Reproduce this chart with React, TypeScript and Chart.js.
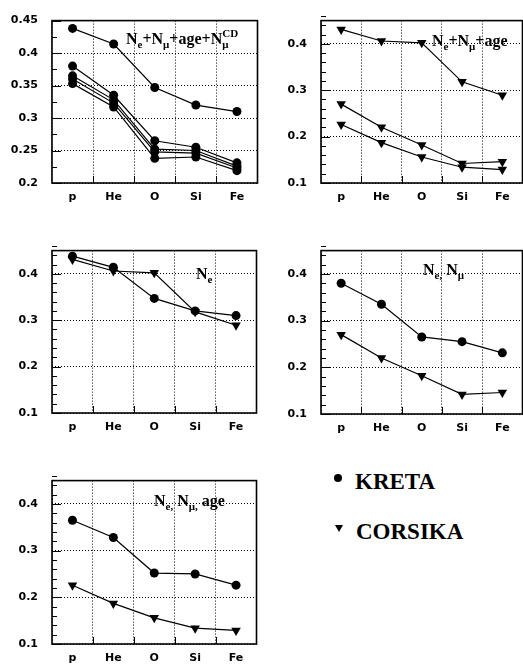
import React, { useEffect, useRef } from 'react';
import { Chart, registerables } from 'chart.js';

Chart.register(...registerables);

// ---------- data ----------
const elements = ['p', 'He', 'O', 'Si', 'Fe'];

// KRETA (circles)
const kretaNe = [0.438, 0.414, 0.347, 0.32, 0.31];
const kretaSetA = [0.38, 0.335, 0.265, 0.255, 0.231];
const kretaSetB = [0.365, 0.328, 0.252, 0.25, 0.226];
const kretaSetC = [0.36, 0.323, 0.248, 0.246, 0.223];
const kretaSetD = [0.353, 0.317, 0.238, 0.24, 0.219];

// CORSIKA (triangles)
const corsikaNe = [0.431, 0.406, 0.402, 0.318, 0.289];
const corsikaNeNmu = [0.27, 0.22, 0.182, 0.142, 0.146];
const corsikaNeNmuAge = [0.226, 0.187, 0.156, 0.134, 0.129];

const yTicksTop = [0.2, 0.25, 0.3, 0.35, 0.4, 0.45];
const yTicksOther = [0.1, 0.2, 0.3, 0.4];

const legendLabels = ['KRETA', 'CORSIKA'];

// ---------- types ----------
type Part = { t: string; sub?: boolean; sup?: boolean; stack?: boolean };
type Series = { data: number[]; marker: 'circle' | 'triangle' };
type Panel = {
  left: number;
  top: number;
  width: number;
  height: number;
  padTop: number;
  padRight: number;
  yW: number;
  xH: number;
  yMin: number;
  yMax: number;
  yTicks: number[];
  yMinor: number;
  series: Series[];
  label: Part[];
  labelDX: number;
  labelDY: number;
};

const N = (sub: string, extra: Partial<Part> = {}): Part[] => [
  { t: 'N' },
  { t: sub, sub: true, ...extra },
];

const panels: Panel[] = [
  {
    left: 0, top: 0, width: 262, height: 210, padTop: 17, padRight: 4, yW: 52, xH: 27,
    yMin: 0.2, yMax: 0.45, yTicks: yTicksTop, yMinor: 0.025,
    series: [
      { data: kretaNe, marker: 'circle' },
      { data: kretaSetA, marker: 'circle' },
      { data: kretaSetB, marker: 'circle' },
      { data: kretaSetC, marker: 'circle' },
      { data: kretaSetD, marker: 'circle' },
    ],
    label: [
      ...N('e'), { t: '+' }, ...N('\u03bc'), { t: '+age+' },
      { t: 'N' }, { t: '\u03bc', sub: true, stack: true }, { t: 'CD', sup: true },
    ],
    labelDX: 74, labelDY: 23,
  },
  {
    left: 268, top: 0, width: 260, height: 210, padTop: 18, padRight: 3, yW: 53, xH: 27,
    yMin: 0.1, yMax: 0.45, yTicks: yTicksOther, yMinor: 0.02,
    series: [
      { data: corsikaNe, marker: 'triangle' },
      { data: corsikaNeNmu, marker: 'triangle' },
      { data: corsikaNeNmuAge, marker: 'triangle' },
    ],
    label: [...N('e'), { t: '+' }, ...N('\u03bc'), { t: '+age' }],
    labelDX: 111, labelDY: 25,
  },
  {
    left: 0, top: 230, width: 262, height: 210, padTop: 17, padRight: 4, yW: 52, xH: 27,
    yMin: 0.1, yMax: 0.45, yTicks: yTicksOther, yMinor: 0.02,
    series: [
      { data: kretaNe, marker: 'circle' },
      { data: corsikaNe, marker: 'triangle' },
    ],
    label: [...N('e')],
    labelDX: 144, labelDY: 28,
  },
  {
    left: 268, top: 230, width: 260, height: 210, padTop: 19, padRight: 3, yW: 53, xH: 26,
    yMin: 0.1, yMax: 0.45, yTicks: yTicksOther, yMinor: 0.02,
    series: [
      { data: kretaSetA, marker: 'circle' },
      { data: corsikaNeNmu, marker: 'triangle' },
    ],
    label: [...N('e,'), { t: ' ' }, ...N('\u03bc')],
    labelDX: 102, labelDY: 24,
  },
  {
    left: 0, top: 460, width: 262, height: 210, padTop: 17, padRight: 4, yW: 52, xH: 26,
    yMin: 0.1, yMax: 0.45, yTicks: yTicksOther, yMinor: 0.02,
    series: [
      { data: kretaSetB, marker: 'circle' },
      { data: corsikaNeNmuAge, marker: 'triangle' },
    ],
    label: [...N('e,'), { t: ' ' }, ...N('\u03bc,'), { t: ' age' }],
    labelDX: 102, labelDY: 25,
  },
];

const MAIN_FONT = 'bold 16px "Liberation Serif", "Times New Roman", serif';
const SUB_FONT = 'bold 11px "Liberation Serif", "Times New Roman", serif';

const framePlugin = {
  id: 'frame',
  afterDraw(chart: any, _args: any, opts: any) {
    const { ctx, chartArea: a, scales } = chart;
    const p: Panel = opts.panel;
    if (!p) return;
    ctx.save();
    // y ticks (inward)
    ctx.strokeStyle = '#000';
    ctx.lineWidth = 1;
    const y = scales.y;
    const count = Math.round((p.yMax - p.yMin) / p.yMinor);
    for (let i = 0; i <= count; i++) {
      const v = p.yMin + i * p.yMinor;
      const py = Math.round(y.getPixelForValue(v)) + 0.5;
      const major = p.yTicks.some((t) => Math.abs(t - v) < 1e-6);
      const len = major ? 9 : 5;
      ctx.beginPath();
      ctx.moveTo(a.left, py);
      ctx.lineTo(a.left + len, py);
      ctx.stroke();
    }
    // x ticks at bin edges
    const x = scales.x;
    for (let i = 1; i < elements.length; i++) {
      const px = Math.round((x.getPixelForValue(i - 1) + x.getPixelForValue(i)) / 2) + 0.5;
      ctx.beginPath();
      ctx.moveTo(px, a.bottom);
      ctx.lineTo(px, a.bottom - 7);
      ctx.stroke();
    }
    // frame
    ctx.lineWidth = 1.6;
    ctx.strokeRect(a.left, a.top, a.right - a.left, a.bottom - a.top);

    // annotation text
    ctx.fillStyle = '#000';
    ctx.textBaseline = 'alphabetic';
    ctx.textAlign = 'left';
    let cx = a.left + p.labelDX;
    const by = a.top + p.labelDY;
    let stackW = 0;
    for (const part of p.label) {
      if (part.sub || part.sup) {
        ctx.font = SUB_FONT;
        const w = ctx.measureText(part.t).width;
        const dy = part.sub ? 4 : -7;
        ctx.fillText(part.t, cx, by + dy);
        if (part.stack) {
          stackW = w;
        } else {
          cx += Math.max(w, stackW);
          stackW = 0;
        }
      } else {
        ctx.font = MAIN_FONT;
        ctx.fillText(part.t, cx, by);
        cx += ctx.measureText(part.t).width;
      }
    }
    ctx.restore();
  },
};

const TICK_FONT = { family: '"DejaVu Sans", Arial, sans-serif', weight: 'bold' as const, size: 11 };

function PanelChart({ panel }: { panel: Panel }) {
  const ref = useRef<HTMLCanvasElement | null>(null);
  useEffect(() => {
    if (!ref.current) return;
    const chart = new Chart(ref.current, {
      type: 'line',
      data: {
        labels: elements,
        datasets: panel.series.map((s) => ({
          data: s.data,
          borderColor: '#000',
          backgroundColor: '#000',
          borderWidth: 1.2,
          pointStyle: s.marker === 'circle' ? 'circle' : 'triangle',
          pointRotation: s.marker === 'circle' ? 0 : 180,
          pointRadius: s.marker === 'circle' ? 4.5 : 5.5,
          pointBorderWidth: 0,
          pointBackgroundColor: '#000',
          pointBorderColor: '#000',
          fill: false,
          tension: 0,
        })),
      },
      options: {
        animation: false,
        responsive: false,
        maintainAspectRatio: false,
        events: [],
        layout: { padding: { top: panel.padTop, right: panel.padRight, left: 0, bottom: 0 } },
        plugins: {
          legend: { display: false },
          tooltip: { enabled: false },
          frame: { panel },
        } as any,
        scales: {
          x: {
            type: 'category',
            offset: true,
            grid: { offset: true, color: '#000', lineWidth: 1, drawTicks: false, drawOnChartArea: true },
            border: { display: false, dash: [1, 2] },
            ticks: { color: '#000', font: TICK_FONT, padding: 8, maxRotation: 0, autoSkip: false },
            afterFit: (s: any) => {
              s.height = panel.xH;
            },
          },
          y: {
            type: 'linear',
            min: panel.yMin,
            max: panel.yMax,
            afterBuildTicks: (s: any) => {
              s.ticks = panel.yTicks.map((v) => ({ value: v }));
            },
            grid: { color: '#000', lineWidth: 1, drawTicks: false, drawOnChartArea: true },
            border: { display: false, dash: [1, 2] },
            ticks: {
              color: '#000',
              font: TICK_FONT,
              padding: 14,
              callback: (v: any) => String(Math.round(Number(v) * 100) / 100),
            },
            afterFit: (s: any) => {
              s.width = panel.yW;
            },
          },
        },
      },
      plugins: [framePlugin],
    } as any);
    return () => chart.destroy();
  }, [panel]);
  return (
    <canvas
      ref={ref}
      width={panel.width}
      height={panel.height}
      style={{ position: 'absolute', left: panel.left, top: panel.top, width: panel.width, height: panel.height }}
    />
  );
}

export default function App() {
  const legendFont: React.CSSProperties = {
    position: 'absolute',
    fontFamily: '"Liberation Serif", "Times New Roman", serif',
    fontWeight: 'bold',
    fontSize: 23,
    lineHeight: '23px',
    color: '#000',
    whiteSpace: 'nowrap',
  };
  return (
    <div
      style={{
        position: 'absolute',
        left: 0,
        top: 0,
        width: 523,
        height: 665,
        overflow: 'hidden',
        background: '#fff',
      }}
    >
      {panels.map((p, i) => (
        <PanelChart key={i} panel={p} />
      ))}
      <div
        style={{
          position: 'absolute',
          left: 334,
          top: 474,
          width: 8,
          height: 8,
          borderRadius: '50%',
          background: '#000',
        }}
      />
      <div style={{ ...legendFont, left: 355, top: 470 }}>{legendLabels[0]}</div>
      <div
        style={{
          position: 'absolute',
          left: 335,
          top: 525,
          width: 0,
          height: 0,
          borderLeft: '4px solid transparent',
          borderRight: '4px solid transparent',
          borderTop: '7px solid #000',
        }}
      />
      <div style={{ ...legendFont, left: 356, top: 520 }}>{legendLabels[1]}</div>
    </div>
  );
}
